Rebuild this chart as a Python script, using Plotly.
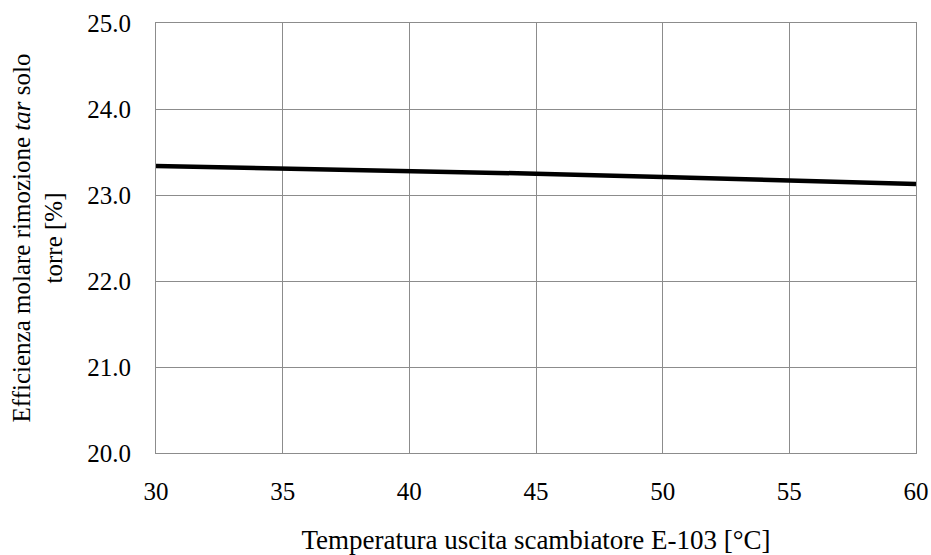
import plotly.graph_objects as go

# Outlet temperature of exchanger E-103 [°C]
temperature = [30, 35, 40, 45, 50, 55, 60]
# Molar tar removal efficiency, tower only [%]
efficiency = [23.338, 23.31, 23.28, 23.248, 23.208, 23.166, 23.128]

x_ticks = [30, 35, 40, 45, 50, 55, 60]
y_ticks = [20, 21, 22, 23, 24, 25]

font_family = "Liberation Serif"
grid_color = "#8c8c8c"

fig = go.Figure()
fig.add_trace(go.Scatter(
    x=temperature, y=efficiency, mode="lines",
    line=dict(color="black", width=4.5),
    showlegend=False,
))

fig.update_layout(
    width=931, height=555,
    margin=dict(l=156, r=15, t=23, b=102),
    paper_bgcolor="white", plot_bgcolor="white",
    font=dict(family=font_family, size=25, color="black"),
)

fig.update_xaxes(
    range=[30, 60], tickvals=x_ticks, ticktext=[str(v) for v in x_ticks],
    showgrid=True, gridcolor=grid_color, gridwidth=1,
    showline=True, linecolor=grid_color, linewidth=1, mirror=True,
    zeroline=False, ticks="", ticklabelstandoff=16, automargin=False,
    tickfont=dict(size=25),
    title=dict(text="Temperatura uscita scambiatore E-103 [°C]",
               font=dict(size=27), standoff=29),
)

fig.update_yaxes(
    range=[20, 25], tickvals=y_ticks, ticktext=[f"{v:.1f}" for v in y_ticks],
    showgrid=True, gridcolor=grid_color, gridwidth=1,
    showline=True, linecolor=grid_color, linewidth=1, mirror=True,
    zeroline=False, ticks="", ticklabelstandoff=19, automargin=False,
    tickfont=dict(size=25),
    title=dict(text="Efficienza molare rimozione <i>tar</i> solo<br>torre [%]",
               font=dict(size=25), standoff=17),
)

fig.write_html("out.html")
